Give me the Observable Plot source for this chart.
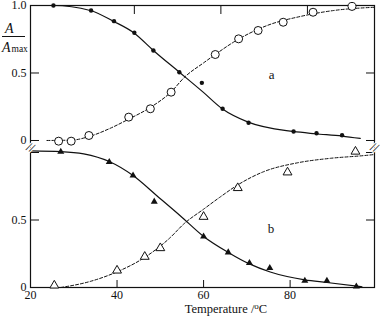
<!DOCTYPE html>
<html><head><meta charset="utf-8">
<script src="https://cdn.jsdelivr.net/npm/d3@7"></script>
<script src="https://cdn.jsdelivr.net/npm/@observablehq/plot@0.6"></script>
<style>body{margin:0;background:#fff} svg{overflow:visible}</style>
</head><body><div id="chart"></div>
<script>
// ---- Panel a (top) ----
const aFilledT = [25.3, 34.0, 39.3, 44.0, 48.4, 54.4, 59.6, 64.4, 70.4, 80.8, 86.1, 92.0];
const aFilledV = [1.0, 0.963, 0.884, 0.798, 0.667, 0.506, 0.427, 0.235, 0.131, 0.067, 0.054, 0.039];
const aOpenT = [26.5, 29.4, 33.5, 42.7, 47.7, 52.5, 62.7, 68.1, 72.6, 78.4, 85.3, 94.3];
const aOpenV = [-0.005, -0.005, 0.037, 0.173, 0.235, 0.358, 0.637, 0.753, 0.815, 0.876, 0.950, 0.993];
const aSolidT = [21, 25.2, 33.8, 39.1, 44.0, 48.4, 54.4, 59.9, 64.3, 70.3, 80.7, 85.8, 92.0, 96.2];
const aSolidV = [1.0, 1.0, 0.963, 0.884, 0.795, 0.667, 0.506, 0.358, 0.235, 0.136, 0.067, 0.050, 0.033, 0.015];
const aDashT = [23.8, 29.6, 33.6, 38.4, 42.8, 47.7, 52.5, 55.6, 60.0, 62.7, 66.9, 74.7, 82.4, 90.1, 99.5];
const aDashV = [0.0, 0.003, 0.03, 0.09, 0.16, 0.245, 0.36, 0.469, 0.575, 0.637, 0.728, 0.852, 0.919, 0.963, 0.987];
// ---- Panel b (bottom) ----
const bFilledT = [27.0, 38.2, 43.7, 48.6, 60.0, 65.7, 70.6, 75.3, 83.4, 88.5, 95.3];
const bFilledV = [1.005, 0.93, 0.829, 0.636, 0.378, 0.260, 0.181, 0.144, 0.050, 0.050, 0.007];
const bOpenT = [25.5, 40.0, 46.4, 50.0, 60.0, 67.9, 79.4, 95.1];
const bOpenV = [0.015, 0.126, 0.228, 0.292, 0.524, 0.737, 0.853, 1.007];
const bSolidT = [20, 27.0, 32.3, 38.2, 43.7, 49.2, 54.6, 60.0, 65.7, 70.6, 75.4, 83.4, 88.5, 96.6];
const bSolidV = [1.012, 1.007, 0.99, 0.933, 0.829, 0.68, 0.532, 0.378, 0.26, 0.175, 0.115, 0.057, 0.037, 0.005];
const bDashT = [27.0, 33.8, 40.0, 46.4, 52.3, 55.4, 60.0, 63.9, 67.9, 73.9, 81.6, 89.3, 97.0, 99.5];
const bDashV = [0.0, 0.045, 0.116, 0.223, 0.37, 0.47, 0.58, 0.672, 0.76, 0.858, 0.923, 0.957, 0.977, 0.985];
// ---- Ticks and labels ----
const xTickLabels = [20, 40, 60, 80];
const xInnerTicks = [40, 60, 80];
const xTopTicks = [44, 64, 84];
const yLabelsA = [0, 0.5, 1.0];
const yLabelsB = [0, 0.5];
const yInnerA = [0, 0.5];
const yInnerB = [0.5, 1.0];
const panelLabels = [{t: 75.7, v: 0.489, panel: "a", text: "a"}, {t: 75.6, v: 0.433, panel: "b", text: "b"}];

const OFF = 1.089; // vertical offset of panel a above panel b (broken axis)
const pts = (T, V, panel) => T.map((t, i) => ({t, v: V[i] + (panel === "a" ? OFF : 0)}));
const fmt = d => { const v = d > OFF - 0.05 ? d - OFF : d; return Math.abs(v) < 1e-9 ? "0" : v.toFixed(1); };
const yLab = yLabelsB.concat(yLabelsA.map(v => v + OFF));
const yIn = yInnerB.concat(yInnerA.map(v => v + OFF));
const ink = "#111";
const ff = "'Liberation Serif', 'Times New Roman', 'DejaVu Serif', serif";

const chart = Plot.plot({
  width: 380, height: 317,
  marginLeft: 30, marginRight: 6, marginTop: 5, marginBottom: 30,
  x: {domain: [20, 99.5]},
  y: {domain: [0, 1 + OFF]},
  style: {fontFamily: ff, fontSize: "12px", background: "white", color: ink, overflow: "visible"},
  marks: [
    Plot.axisX(xTickLabels, {anchor: "bottom", tickSize: 0, tickPadding: 3, label: null, fontSize: 12}),
    Plot.axisX(xInnerTicks, {anchor: "top", frameAnchor: "bottom", tickSize: 8, tickFormat: () => "", label: null}),
    Plot.axisX(xTopTicks, {anchor: "bottom", frameAnchor: "top", tickSize: 9, tickFormat: () => "", label: null}),
    Plot.axisY(yLab, {anchor: "left", tickSize: 0, tickPadding: 4, tickFormat: fmt, label: null, fontSize: 12}),
    Plot.axisY(yIn, {anchor: "right", frameAnchor: "left", tickSize: 8, tickFormat: () => "", label: null}),
    Plot.axisY(yIn, {anchor: "left", frameAnchor: "right", tickSize: 8, tickFormat: () => "", label: null}),
    Plot.frame({stroke: ink, strokeWidth: 1.2}),
    Plot.line(pts(aSolidT, aSolidV, "a"), {x: "t", y: "v", curve: "monotone-x", stroke: ink, strokeWidth: 1.2}),
    Plot.line(pts(aDashT, aDashV, "a"), {x: "t", y: "v", curve: "monotone-x", stroke: ink, strokeWidth: 1, strokeDasharray: "3,2"}),
    Plot.line(pts(bSolidT, bSolidV, "b"), {x: "t", y: "v", curve: "monotone-x", stroke: ink, strokeWidth: 1.2}),
    Plot.line(pts(bDashT, bDashV, "b"), {x: "t", y: "v", curve: "monotone-x", stroke: ink, strokeWidth: 1, strokeDasharray: "3,2"}),
    Plot.dot(pts(aFilledT, aFilledV, "a"), {x: "t", y: "v", r: 2.2, fill: ink}),
    Plot.dot(pts(aOpenT, aOpenV, "a"), {x: "t", y: "v", r: 4, stroke: ink, fill: "white", strokeWidth: 1}),
    Plot.dot(pts(bFilledT, bFilledV, "b"), {x: "t", y: "v", r: 2.6, symbol: "triangle", fill: ink}),
    Plot.dot(pts(bOpenT, bOpenV, "b"), {x: "t", y: "v", r: 3.3, symbol: "triangle", stroke: ink, fill: "white", strokeWidth: 1}),
    Plot.text(panelLabels, {x: "t", y: d => d.v + (d.panel === "a" ? OFF : 0), text: "text", fontSize: 13, fill: ink}),
    Plot.text([20, 99.5], {x: d => d, y: 1.037, text: () => "//", fontSize: 13, rotate: 25, fill: ink, stroke: "white", strokeWidth: 2.5, paintOrder: "stroke"})
  ]
});
document.getElementById("chart").append(chart);

const svg = d3.select(chart);
const xl = svg.append("text").attr("x", 226).attr("y", 313).attr("text-anchor", "middle")
  .style("font-family", ff).attr("font-size", 12.5).attr("fill", ink);
xl.append("tspan").text("Temperature /");
xl.append("tspan").attr("font-size", 9).attr("dy", -4).text("o");
xl.append("tspan").attr("dy", 4).text("C");
const addText = (x, y, size, italic, s) => svg.append("text").attr("x", x).attr("y", y)
  .attr("text-anchor", "start").style("font-family", ff).style("font-style", italic ? "italic" : "normal")
  .attr("font-size", size).attr("fill", ink).text(s);
addText(5, 33.3, 14, true, "A");
svg.append("line").attr("x1", 2).attr("x2", 25).attr("y1", 36.5).attr("y2", 36.5).attr("stroke", ink).attr("stroke-width", 1);
addText(2, 51.7, 14, true, "A");
addText(11.5, 52.3, 9.5, false, "max");
</script></body></html>
